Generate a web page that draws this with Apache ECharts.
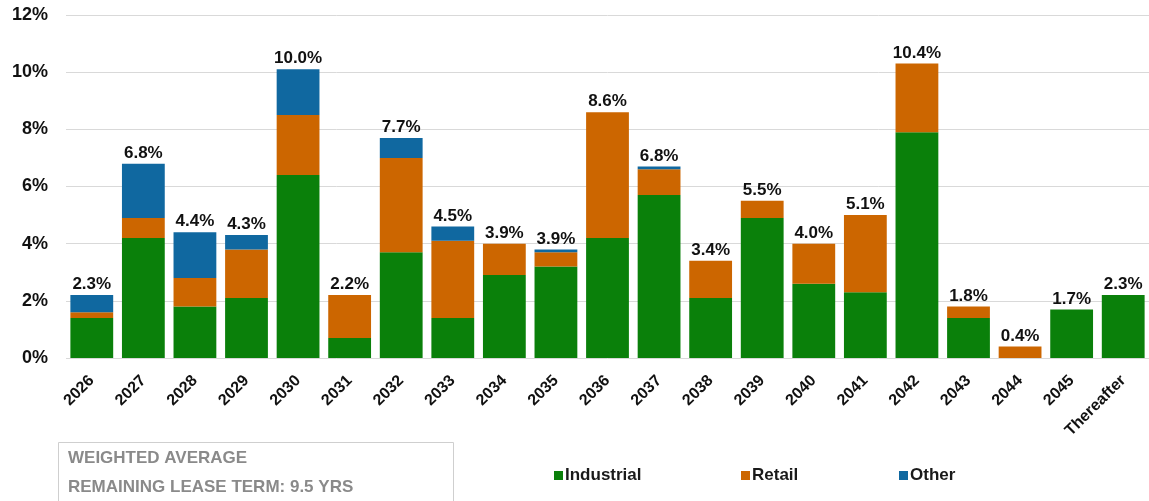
<!DOCTYPE html>
<html><head><meta charset="utf-8">
<script src="https://cdn.jsdelivr.net/npm/echarts@6/dist/echarts.min.js"></script>
<style>html,body{margin:0;padding:0;background:#fff}#c{width:1149px;height:501px}</style>
</head><body><div id="c"></div>
<script>
const categories = ['2026','2027','2028','2029','2030','2031','2032','2033','2034','2035','2036','2037','2038','2039','2040','2041','2042','2043','2044','2045','Thereafter'];
const industrial = [1.4,4.2,1.8,2.1,6.4,0.7,3.7,1.4,2.9,3.2,4.2,5.7,2.1,4.9,2.6,2.3,7.9,1.4,0,1.7,2.2];
const retail     = [0.2,0.7,1.0,1.7,2.1,1.5,3.3,2.7,1.1,0.5,4.4,0.9,1.3,0.6,1.4,2.7,2.4,0.4,0.4,0,0];
const other      = [0.6,1.9,1.6,0.5,1.6,0,0.7,0.5,0,0.1,0,0.1,0,0,0,0,0,0,0,0,0];
const totalLabels = ['2.3%','6.8%','4.4%','4.3%','10.0%','2.2%','7.7%','4.5%','3.9%','3.9%','8.6%','6.8%','3.4%','5.5%','4.0%','5.1%','10.4%','1.8%','0.4%','1.7%','2.3%'];
const yTicks = [0,2,4,6,8,10,12];
const seriesNames = ['Industrial','Retail','Other'];
const boxLines = ['WEIGHTED AVERAGE','REMAINING LEASE TERM: 9.5 YRS'];

const FONT = '"Liberation Sans", Arial, sans-serif';
const legendLefts = [549, 736, 894];
const chart = echarts.init(document.getElementById('c'));
chart.setOption({
  animation: false,
  textStyle: { fontFamily: FONT },
  grid: { left: 66, right: -3, top: 15, bottom: 143 },
  legend: seriesNames.map((n, i) => ({
    data: [n], left: legendLefts[i], top: 462,
    itemWidth: 9, itemHeight: 9, icon: 'rect', selectedMode: false,
    textStyle: { fontSize: 17, fontWeight: 'bold', color: '#1a1a1a', fontFamily: FONT, padding: [0,0,0,-3] }
  })),
  xAxis: {
    type: 'category', data: categories,
    axisLine: { show: false }, axisTick: { show: false },
    axisLabel: { rotate: 45, fontSize: 16, fontWeight: 'bold', color: '#111', margin: 20, interval: 0 }
  },
  yAxis: {
    type: 'value', min: 0, max: 12, interval: 2,
    axisLabel: { formatter: v => yTicks.includes(v) ? v + '%' : '', fontSize: 18, fontWeight: 'bold', color: '#111', margin: 18 },
    splitLine: { lineStyle: { color: '#d9d9d9', width: 1 } },
    axisLine: { show: false }, axisTick: { show: false }
  },
  series: [
    { name: seriesNames[0], type: 'bar', stack: 's', data: industrial, barCategoryGap: '17%', itemStyle: { color: '#0a800a' } },
    { name: seriesNames[1], type: 'bar', stack: 's', data: retail, itemStyle: { color: '#cc6600' } },
    { name: seriesNames[2], type: 'bar', stack: 's', data: other, itemStyle: { color: '#1068a0' } },
    { name: 'Total', type: 'bar', stack: 's', data: categories.map(() => 0),
      itemStyle: { color: 'rgba(0,0,0,0)' },
      label: { show: true, position: 'top', distance: 2, fontSize: 17, fontWeight: 'bold', color: '#111',
        formatter: p => totalLabels[p.dataIndex] } }
  ],
  graphic: [
    { type: 'rect', left: 58, top: 442, shape: { width: 395, height: 70 },
      style: { fill: '#fff', stroke: '#cfcfcf', lineWidth: 1 } },
    { type: 'text', left: 68, top: 450, style: { text: boxLines[0], fontSize: 17, fontWeight: 'bold', fill: '#8a8a8a', fontFamily: FONT } },
    { type: 'text', left: 68, top: 479, style: { text: boxLines[1], fontSize: 17, fontWeight: 'bold', fill: '#8a8a8a', fontFamily: FONT } }
  ]
});
</script></body></html>
